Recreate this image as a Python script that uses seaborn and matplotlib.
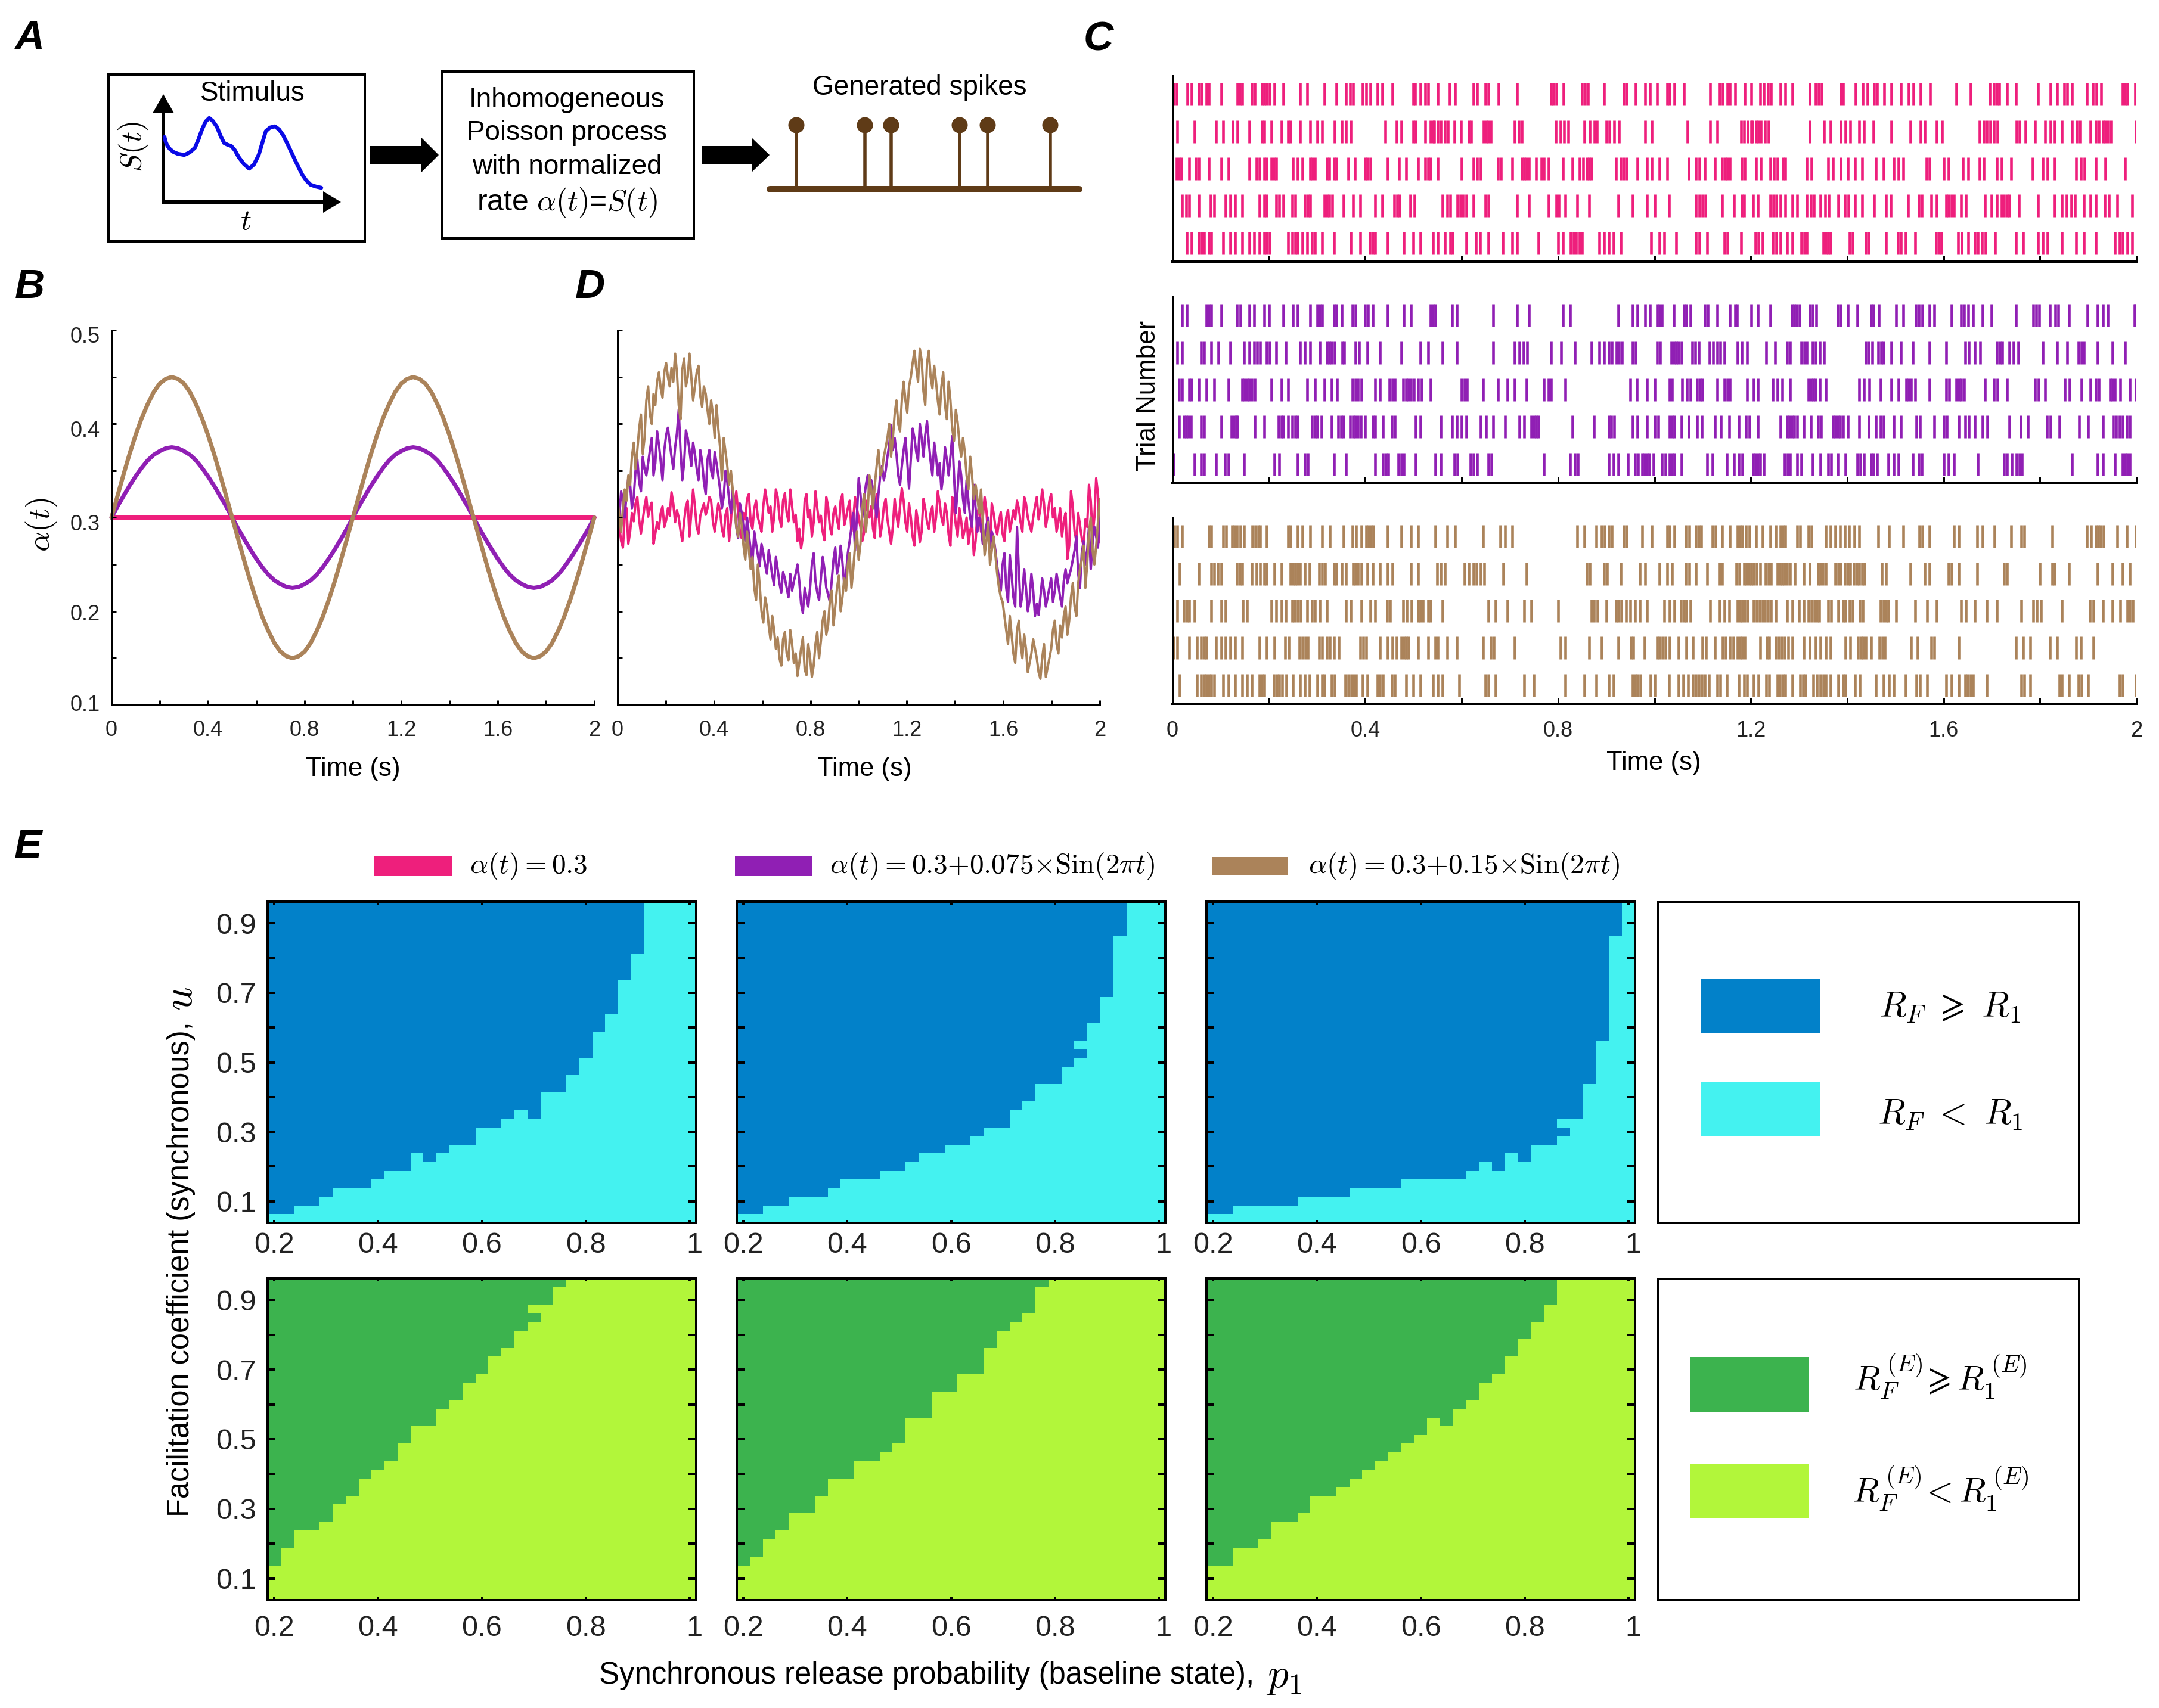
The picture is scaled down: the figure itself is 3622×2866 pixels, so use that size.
import numpy as np
import pandas as pd
import matplotlib
matplotlib.use("Agg")
import matplotlib.pyplot as plt
from matplotlib.colors import ListedColormap
from matplotlib.patches import Rectangle, Polygon, Circle
from matplotlib.transforms import ScaledTranslation
import seaborn as sns

W, H = 3622, 2866

PINK = "#EE1F7C"
PURPLE = "#901FB4"
BROWN = "#AB835A"
DARK_BLUE = "#0281C9"
CYAN = "#44F2F0"
GREEN = "#3CB34E"
LIME = "#B2F63A"
STEM = "#5F3B17"

# ------------------------------------------------------------
# DATA - panel A
# ------------------------------------------------------------
stimulus_x = [276, 278, 281, 285, 291, 298, 309, 318, 327, 333, 339, 345, 351, 357, 364, 370, 376, 382, 388, 394, 400,
              409, 418, 426, 434, 440, 446, 453, 461, 468, 475, 483, 491, 499, 507, 514, 521, 530, 539]
stimulus_y = [230, 238, 245, 250, 255, 258, 260, 256, 248, 234, 217, 204, 198, 203, 213, 228, 240, 243, 245, 252, 263,
              275, 283, 276, 260, 240, 220, 214, 212, 217, 227, 243, 260, 277, 293, 303, 310, 313, 315]
generated_spikes = [1336, 1451, 1495, 1610, 1657, 1762]

# ------------------------------------------------------------
# DATA - panel B, values read every 0.025 s
# ------------------------------------------------------------
clean_time = np.arange(81) * 0.025
clean_pink = [0.30] * 81
clean_purple = [.300, .312, .323, .334, .344, .353, .361, .367, .371, .374, .375, .374, .371, .367, .361, .353, .344, .334, .323, .312,
                .300, .288, .277, .266, .256, .247, .239, .233, .229, .226, .225, .226, .229, .233, .239, .247, .256, .266, .277, .288,
                .300, .312, .323, .334, .344, .353, .361, .367, .371, .374, .375, .374, .371, .367, .361, .353, .344, .334, .323, .312,
                .300, .288, .277, .266, .256, .247, .239, .233, .229, .226, .225, .226, .229, .233, .239, .247, .256, .266, .277, .288, .300]
clean_brown = [.300, .323, .346, .368, .388, .406, .421, .434, .443, .448, .450, .448, .443, .434, .421, .406, .388, .368, .346, .323,
               .300, .277, .254, .232, .212, .194, .179, .166, .157, .152, .150, .152, .157, .166, .179, .194, .212, .232, .254, .277,
               .300, .323, .346, .368, .388, .406, .421, .434, .443, .448, .450, .448, .443, .434, .421, .406, .388, .368, .346, .323,
               .300, .277, .254, .232, .212, .194, .179, .166, .157, .152, .150, .152, .157, .166, .179, .194, .212, .232, .254, .277, .300]

# ------------------------------------------------------------
# DATA - panel D, noisy rates
# (coarse samples plus the readings that fall between them)
# ------------------------------------------------------------
noisy_pink = [.317, .275, .300, .272, .305, .315, .298, .297, .322, .310,
              .272, .295, .305, .290, .310, .327, .295, .300, .275, .312,
              .280, .330, .290, .302, .315, .310, .318, .285, .315, .288,
              .303, .275, .325, .328, .285, .305, .320, .295, .310, .300,
              .285, .330, .305, .285, .330, .300, .318, .305, .330, .295,
              .275, .267, .318, .300, .280, .328, .295, .285, .322, .290,
              .305, .298, .318, .292, .310, .285, .322, .300, .275, .318,
              .300, .288, .325, .280, .312, .298, .272, .320, .290, .331,
              .295, .315, .280, .308, .274, .320, .295, .305, .285, .328,
              .300, .315, .282, .322, .292, .310, .278, .300, .286, .260,
              .305, .285, .322, .278, .315, .290, .296, .283, .300, .285,
              .308, .318, .295, .322, .300, .285, .312, .298, .330, .290,
              .318, .300, .285, .310, .296, .256, .328, .285, .305, .278,
              .298, .335, .280, .342, .274]
between_pink = [.290, .268, .310, .285, .296, .322, .283, .312, .301, .316,
                .283, .288, .312, .297, .302, .315, .308, .286, .296, .318,
                .305, .312, .283, .309, .303, .322, .296, .300, .307, .280,
                .310, .296, .315, .306, .278, .298, .325, .288, .318, .293,
                .312, .318, .312, .300, .322, .290, .326, .296, .312, .303,
                .288, .280, .325, .308, .295, .310, .302, .276, .312, .282,
                .312, .288, .325, .300, .318, .298, .310, .290, .284, .308,
                .312, .278, .308, .292, .320, .285, .290, .303, .312, .318,
                .285, .300, .270, .295, .285, .310, .288, .312, .300, .316,
                .292, .305, .270, .310, .280, .296, .288, .272, .295, .275,
                .312, .300, .308, .268, .305, .282, .306, .275, .308, .295,
                .298, .310, .285, .315, .292, .300, .322, .310, .315, .302,
                .325, .310, .295, .280, .305, .270, .312, .275, .292, .270,
                .290, .318, .300, .325]
noisy_purple = [.317, .328, .300, .342, .310, .350, .338, .365, .345, .372,
                .345, .392, .360, .372, .396, .365, .375, .415, .340, .393,
                .372, .380, .352, .372, .338, .362, .350, .370, .345, .310,
                .350, .320, .330, .290, .315, .290, .300, .265, .285, .260,
                .272, .250, .265, .238, .258, .230, .242, .225, .240, .232,
                .250, .208, .225, .205, .250, .232, .212, .258, .225, .210,
                .255, .240, .270, .228, .262, .290, .265, .342, .300, .335,
                .325, .330, .300, .345, .340, .365, .399, .385, .345, .355,
                .385, .331, .395, .370, .400, .365, .403, .360, .380, .345,
                .330, .375, .345, .387, .305, .360, .320, .340, .300, .335,
                .285, .290, .280, .300, .285, .265, .235, .250, .225, .260,
                .215, .290, .205, .245, .200, .240, .195, .196, .235, .205,
                .225, .210, .240, .215, .232, .230, .245, .265, .240, .262,
                .250, .290, .272, .280, .303]
between_purple = [.302, .318, .325, .335, .322, .362, .328, .352, .358, .385,
                  .358, .378, .340, .388, .380, .352, .390, .372, .358, .385,
                  .355, .368, .340, .360, .325, .372, .342, .358, .330, .322,
                  .338, .305, .312, .278, .305, .275, .282, .252, .272, .248,
                  .262, .240, .252, .228, .245, .220, .235, .215, .222, .240,
                  .232, .198, .215, .225, .262, .220, .235, .245, .218, .232,
                  .268, .250, .252, .240, .275, .305, .300, .325, .318, .345,
                  .340, .318, .325, .355, .350, .378, .372, .368, .335, .372,
                  .360, .362, .385, .360, .385, .388, .380, .345, .365, .358,
                  .345, .362, .365, .345, .330, .345, .305, .318, .290, .310,
                  .300, .272, .292, .268, .278, .248, .222, .262, .210, .238,
                  .205, .245, .218, .225, .212, .222, .208, .215, .222, .215,
                  .235, .222, .228, .205, .245, .238, .255, .280, .225, .275,
                  .265, .245, .290, .268]
noisy_brown = [.320, .285, .330, .345, .365, .352, .395, .368, .425, .410,
               .432, .445, .438, .455, .450, .460, .475, .420, .458, .440,
               .475, .425, .455, .430, .440, .415, .425, .385, .395, .340,
               .370, .335, .330, .290, .305, .270, .285, .245, .225, .250,
               .200, .215, .185, .195, .160, .150, .170, .155, .180, .145,
               .131, .160, .138, .165, .130, .165, .150, .190, .175, .210,
               .185, .225, .200, .235, .250, .225, .270, .255, .310, .285,
               .345, .310, .355, .345, .365, .385, .365, .410, .400, .425,
               .425, .440, .465, .460, .480, .435, .465, .450, .462, .425,
               .440, .420, .445, .395, .415, .380, .385, .345, .365, .320,
               .320, .330, .260, .295, .265, .260, .225, .210, .180, .195,
               .155, .180, .165, .175, .135, .155, .160, .135, .150, .130,
               .150, .180, .165, .185, .195, .175, .215, .205, .230, .255,
               .225, .285, .265, .270, .320]
between_brown = [.300, .310, .318, .335, .380, .372, .410, .385, .440, .400,
                 .420, .455, .428, .465, .440, .445, .455, .405, .470, .450,
                 .450, .440, .462, .418, .432, .400, .410, .420, .375, .385,
                 .355, .350, .310, .280, .292, .255, .265, .258, .212, .228,
                 .188, .205, .170, .180, .172, .142, .178, .148, .165, .155,
                 .145, .172, .132, .150, .142, .178, .168, .200, .185, .222,
                 .205, .238, .215, .222, .262, .245, .285, .272, .325, .305,
                 .330, .335, .372, .350, .375, .400, .385, .425, .392, .445,
                 .412, .450, .478, .445, .468, .420, .478, .438, .445, .410,
                 .455, .405, .425, .382, .402, .365, .370, .330, .345, .335,
                 .305, .295, .275, .250, .280, .240, .215, .195, .165, .175,
                 .145, .190, .150, .160, .145, .170, .150, .128, .165, .140,
                 .160, .190, .155, .172, .205, .190, .230, .195, .245, .270,
                 .250, .300, .250, .295]

# ------------------------------------------------------------
# DATA - panel C, spike times in ms, top trial first
# ------------------------------------------------------------
pink_spikes = [
    [2, 9, 31, 40, 55, 60, 70, 75, 101, 135, 140, 145, 165, 171, 186, 191, 196, 201, 211, 230, 265, 280, 316, 340, 360,
     369, 375, 395, 402, 411, 426, 435, 456, 500, 504, 515, 524, 531, 551, 575, 586, 625, 632, 649, 656, 676, 715, 785,
     790, 796, 811, 850, 856, 862, 895, 936, 942, 961, 981, 991, 1006, 1026, 1032, 1042, 1061, 1116, 1136, 1142, 1151,
     1157, 1167, 1187, 1201, 1220, 1227, 1236, 1242, 1262, 1272, 1286, 1322, 1335, 1341, 1347, 1386, 1392, 1417, 1432,
     1442, 1456, 1462, 1477, 1492, 1512, 1527, 1537, 1552, 1572, 1626, 1656, 1696, 1705, 1711, 1716, 1732, 1750, 1796,
     1822, 1836, 1850, 1857, 1867, 1897, 1910, 1917, 1927, 1971, 1976, 1982, 1997],
    [10, 46, 90, 105, 125, 135, 160, 186, 191, 205, 226, 240, 245, 265, 286, 300, 310, 336, 351, 360, 370, 441, 465, 475,
     500, 505, 525, 535, 540, 543, 550, 557, 565, 572, 585, 599, 615, 620, 646, 651, 656, 661, 710, 719, 725, 795, 805,
     812, 821, 855, 866, 876, 881, 900, 907, 916, 926, 981, 994, 1069, 1116, 1131, 1180, 1186, 1193, 1201, 1204, 1211,
     1216, 1221, 1229, 1237, 1322, 1352, 1366, 1386, 1396, 1406, 1425, 1435, 1455, 1492, 1531, 1552, 1561, 1586, 1597,
     1675, 1683, 1690, 1697, 1705, 1712, 1751, 1758, 1770, 1790, 1811, 1822, 1831, 1845, 1867, 1876, 1882, 1905, 1916,
     1922, 1931, 1936, 1941, 1947, 1999],
    [9, 14, 19, 35, 48, 54, 75, 101, 116, 160, 175, 181, 190, 196, 205, 210, 215, 250, 260, 270, 286, 291, 296, 320, 325,
     335, 340, 365, 379, 399, 405, 411, 446, 470, 485, 510, 524, 530, 536, 550, 600, 625, 632, 640, 675, 682, 705, 725,
     730, 735, 740, 755, 765, 771, 780, 810, 830, 845, 852, 860, 864, 870, 920, 930, 936, 942, 965, 985, 995, 1011, 1026,
     1071, 1086, 1093, 1105, 1125, 1141, 1146, 1151, 1156, 1181, 1187, 1211, 1221, 1241, 1248, 1255, 1266, 1272, 1316,
     1326, 1361, 1371, 1386, 1401, 1416, 1431, 1460, 1476, 1496, 1506, 1516, 1565, 1571, 1600, 1611, 1640, 1651, 1675,
     1683, 1710, 1720, 1740, 1785, 1806, 1816, 1831, 1875, 1885, 1892, 1916, 1936, 1976],
    [20, 29, 35, 55, 79, 86, 110, 120, 130, 145, 180, 190, 196, 215, 222, 230, 249, 255, 274, 281, 286, 315, 320, 325, 331,
     355, 375, 390, 420, 435, 460, 466, 471, 494, 502, 560, 570, 576, 591, 597, 602, 610, 625, 649, 656, 715, 740, 780,
     796, 801, 815, 840, 865, 925, 955, 985, 1001, 1030, 1086, 1093, 1100, 1106, 1141, 1165, 1181, 1186, 1205, 1215, 1241,
     1247, 1253, 1262, 1272, 1286, 1296, 1316, 1325, 1331, 1345, 1354, 1362, 1381, 1395, 1402, 1416, 1431, 1456, 1481,
     1491, 1526, 1549, 1555, 1575, 1586, 1605, 1610, 1616, 1622, 1636, 1646, 1686, 1700, 1710, 1721, 1726, 1731, 1736,
     1756, 1796, 1831, 1845, 1855, 1865, 1873, 1891, 1905, 1916, 1935, 1943, 1961, 1991],
    [30, 40, 55, 60, 66, 75, 81, 105, 120, 130, 145, 160, 170, 180, 190, 195, 201, 240, 249, 255, 260, 270, 280, 289, 296,
     310, 335, 370, 390, 410, 416, 421, 446, 480, 500, 515, 540, 550, 565, 576, 581, 610, 630, 638, 656, 685, 705, 715,
     760, 800, 810, 826, 832, 837, 845, 850, 885, 895, 905, 915, 930, 993, 1011, 1021, 1045, 1086, 1093, 1110, 1145, 1152,
     1180, 1210, 1216, 1225, 1246, 1253, 1262, 1275, 1286, 1305, 1311, 1316, 1351, 1356, 1361, 1366, 1405, 1411, 1439,
     1445, 1481, 1505, 1512, 1521, 1541, 1585, 1591, 1596, 1630, 1637, 1651, 1665, 1671, 1680, 1687, 1707, 1750, 1765,
     1796, 1806, 1816, 1846, 1875, 1891, 1916, 1956, 1965, 1971, 1981, 1991],
]
purple_spikes = [
    [20, 30, 70, 75, 81, 101, 134, 141, 160, 170, 190, 200, 230, 250, 260, 286, 300, 306, 311, 335, 340, 351, 374, 380, 400,
     406, 415, 446, 480, 495, 535, 541, 546, 580, 590, 666, 715, 740, 810, 825, 925, 955, 965, 981, 991, 1005, 1011, 1016,
     1040, 1061, 1066, 1075, 1104, 1111, 1131, 1157, 1167, 1171, 1201, 1215, 1241, 1285, 1290, 1295, 1301, 1322, 1329, 1336,
     1380, 1387, 1401, 1421, 1449, 1455, 1466, 1502, 1516, 1542, 1548, 1556, 1571, 1581, 1616, 1636, 1642, 1651, 1661, 1681,
     1700, 1750, 1786, 1792, 1799, 1821, 1832, 1838, 1860, 1899, 1920, 1931, 1941, 1996, 1998],
    [10, 20, 59, 66, 80, 95, 120, 149, 160, 170, 176, 182, 195, 201, 215, 235, 265, 275, 286, 305, 320, 325, 330, 336, 353,
     356, 380, 387, 405, 430, 475, 515, 530, 560, 590, 666, 710, 720, 729, 736, 785, 806, 835, 870, 885, 895, 905, 911, 921,
     927, 932, 955, 961, 1005, 1012, 1035, 1040, 1045, 1050, 1056, 1079, 1085, 1092, 1115, 1122, 1130, 1137, 1145, 1172,
     1181, 1192, 1232, 1251, 1275, 1281, 1305, 1311, 1316, 1329, 1335, 1343, 1352, 1439, 1445, 1452, 1465, 1471, 1476, 1492,
     1512, 1536, 1571, 1605, 1645, 1652, 1665, 1676, 1711, 1717, 1722, 1736, 1745, 1755, 1806, 1836, 1857, 1880, 1886, 1891,
     1920, 1951, 1976],
    [14, 20, 35, 40, 55, 70, 87, 116, 145, 150, 155, 160, 165, 171, 205, 226, 240, 280, 295, 316, 330, 341, 374, 380, 385,
     392, 421, 431, 450, 456, 461, 479, 485, 490, 495, 501, 510, 517, 535, 600, 606, 611, 645, 675, 695, 710, 735, 770, 781,
     786, 815, 950, 963, 985, 1001, 1031, 1036, 1058, 1068, 1075, 1089, 1095, 1100, 1131, 1145, 1151, 1156, 1192, 1206, 1215,
     1245, 1255, 1265, 1281, 1320, 1325, 1330, 1335, 1343, 1356, 1425, 1435, 1446, 1470, 1492, 1506, 1522, 1527, 1532, 1541,
     1571, 1606, 1612, 1626, 1631, 1636, 1642, 1686, 1705, 1712, 1732, 1790, 1797, 1811, 1851, 1862, 1886, 1905, 1916, 1922,
     1945, 1951, 1956, 1966, 1986, 1999],
    [14, 23, 28, 33, 38, 59, 66, 101, 122, 127, 132, 135, 171, 190, 220, 226, 230, 240, 249, 255, 260, 289, 295, 301, 309, 330,
     344, 350, 355, 369, 375, 380, 385, 391, 400, 415, 421, 436, 455, 461, 505, 515, 556, 580, 590, 600, 610, 640, 650, 666,
     690, 720, 730, 744, 750, 755, 760, 830, 875, 905, 910, 916, 955, 965, 985, 1001, 1008, 1031, 1037, 1042, 1056, 1071,
     1089, 1098, 1125, 1138, 1155, 1175, 1190, 1197, 1215, 1262, 1275, 1280, 1285, 1290, 1296, 1310, 1325, 1339, 1346, 1370,
     1375, 1380, 1385, 1392, 1401, 1425, 1445, 1460, 1470, 1476, 1496, 1512, 1544, 1551, 1581, 1600, 1607, 1631, 1645, 1652,
     1665, 1681, 1691, 1736, 1760, 1775, 1815, 1822, 1841, 1881, 1900, 1931, 1952, 1958, 1965, 1971, 1980, 1986],
    [3, 46, 59, 66, 90, 109, 116, 149, 211, 221, 260, 274, 281, 335, 360, 421, 437, 443, 448, 469, 475, 480, 505, 545, 556,
     585, 591, 619, 625, 632, 656, 662, 770, 825, 835, 841, 905, 915, 925, 945, 960, 966, 975, 980, 985, 990, 998, 1016,
     1023, 1031, 1037, 1042, 1056, 1110, 1120, 1150, 1165, 1175, 1182, 1205, 1210, 1215, 1220, 1227, 1270, 1276, 1281, 1296,
     1305, 1329, 1345, 1361, 1367, 1380, 1396, 1421, 1427, 1435, 1449, 1455, 1462, 1486, 1496, 1506, 1536, 1549, 1555, 1600,
     1611, 1621, 1671, 1726, 1732, 1741, 1751, 1757, 1762, 1866, 1920, 1931, 1956, 1971, 1976, 1981, 1986],
]
brown_spikes = [
    [4, 10, 20, 75, 81, 105, 111, 124, 129, 134, 141, 149, 166, 172, 178, 182, 195, 240, 245, 260, 270, 286, 310, 326, 355,
     374, 381, 392, 402, 407, 412, 417, 446, 475, 495, 510, 546, 570, 586, 645, 680, 690, 705, 840, 855, 880, 891, 897, 905,
     911, 936, 942, 975, 995, 1026, 1032, 1042, 1065, 1072, 1086, 1092, 1097, 1121, 1127, 1141, 1157, 1172, 1178, 1183, 1190,
     1197, 1211, 1225, 1241, 1252, 1261, 1267, 1272, 1296, 1302, 1320, 1326, 1355, 1365, 1375, 1385, 1395, 1404, 1415, 1425,
     1465, 1487, 1516, 1550, 1556, 1571, 1621, 1631, 1670, 1681, 1706, 1740, 1761, 1767, 1826, 1897, 1906, 1916, 1921, 1926,
     1932, 1961, 1980, 1999],
    [15, 55, 80, 86, 94, 101, 134, 140, 145, 165, 175, 182, 190, 196, 211, 226, 245, 250, 255, 260, 265, 275, 284, 304, 310,
     317, 335, 340, 351, 360, 375, 380, 385, 392, 405, 415, 430, 446, 456, 495, 510, 549, 556, 565, 606, 615, 624, 631, 640,
     647, 687, 735, 859, 866, 895, 902, 930, 970, 981, 1011, 1026, 1036, 1065, 1072, 1086, 1110, 1135, 1141, 1170, 1176, 1186,
     1191, 1196, 1201, 1206, 1212, 1220, 1231, 1237, 1242, 1255, 1260, 1265, 1270, 1275, 1281, 1291, 1310, 1322, 1339, 1345,
     1350, 1356, 1376, 1382, 1387, 1395, 1401, 1406, 1414, 1420, 1425, 1431, 1436, 1472, 1481, 1531, 1561, 1571, 1611, 1617,
     1631, 1670, 1725, 1732, 1800, 1825, 1831, 1860, 1920, 1951, 1971, 1986],
    [10, 24, 30, 35, 46, 80, 101, 110, 146, 155, 205, 215, 226, 235, 249, 254, 260, 266, 280, 289, 296, 305, 320, 360, 370, 392,
     411, 421, 445, 451, 479, 486, 496, 509, 515, 520, 530, 536, 560, 655, 670, 695, 730, 745, 800, 869, 875, 882, 900, 920, 925,
     931, 941, 950, 960, 970, 985, 1021, 1031, 1042, 1055, 1061, 1066, 1075, 1116, 1136, 1145, 1155, 1172, 1178, 1183, 1188,
     1193, 1206, 1212, 1218, 1224, 1230, 1236, 1242, 1252, 1275, 1286, 1300, 1310, 1320, 1326, 1332, 1337, 1342, 1361, 1367,
     1381, 1391, 1397, 1405, 1411, 1426, 1432, 1470, 1475, 1480, 1486, 1502, 1541, 1566, 1586, 1636, 1646, 1665, 1690, 1710,
     1761, 1786, 1793, 1802, 1845, 1904, 1911, 1931, 1951, 1966, 1981, 1987, 1992],
    [3, 10, 35, 51, 59, 65, 71, 90, 101, 110, 120, 130, 145, 181, 195, 211, 234, 241, 264, 270, 276, 281, 304, 311, 320, 326,
     335, 345, 390, 396, 402, 430, 446, 456, 465, 475, 480, 485, 490, 510, 530, 546, 551, 570, 590, 645, 660, 667, 710, 805,
     815, 865, 890, 925, 951, 956, 980, 1005, 1011, 1017, 1023, 1031, 1050, 1066, 1080, 1100, 1107, 1125, 1142, 1148, 1157,
     1164, 1172, 1178, 1183, 1188, 1220, 1233, 1238, 1252, 1258, 1264, 1270, 1278, 1286, 1310, 1322, 1335, 1345, 1355, 1365,
     1396, 1406, 1422, 1428, 1434, 1438, 1450, 1467, 1473, 1478, 1532, 1546, 1574, 1581, 1631, 1750, 1765, 1780, 1821, 1835,
     1875, 1885, 1911],
    [15, 51, 59, 66, 70, 75, 80, 86, 105, 116, 130, 145, 155, 165, 180, 186, 191, 210, 216, 222, 228, 236, 250, 265, 275, 284,
     300, 311, 316, 330, 336, 359, 365, 371, 376, 381, 395, 405, 425, 431, 436, 455, 461, 485, 500, 515, 540, 550, 560, 595,
     649, 656, 670, 730, 750, 815, 855, 880, 905, 915, 955, 960, 965, 971, 992, 1001, 1030, 1050, 1060, 1070, 1080, 1086, 1092,
     1098, 1104, 1113, 1130, 1137, 1150, 1175, 1186, 1192, 1206, 1216, 1232, 1238, 1255, 1260, 1266, 1272, 1286, 1302, 1308,
     1313, 1330, 1337, 1345, 1351, 1356, 1365, 1381, 1391, 1397, 1416, 1426, 1460, 1476, 1487, 1496, 1521, 1544, 1551, 1566,
     1606, 1616, 1631, 1645, 1650, 1656, 1661, 1690, 1761, 1767, 1780, 1840, 1846, 1860, 1880, 1886, 1900, 1965, 1971, 1999],
]

# ------------------------------------------------------------
# DATA - panel E, number of cells below the boundary in each p1 column
# ------------------------------------------------------------
p1_values = np.arange(33) * 0.025 + 0.2
u_values = np.arange(37) * 0.025 + 0.05

top_below_1 = [1, 1, 2, 2, 3, 4, 4, 4, 5, 6, 6, 8, 7, 8, 9, 9, 11, 11, 12, 13, 12, 15, 15, 17, 19, 22, 24, 28, 31, 37, 37, 37, 37]
top_below_2 = [1, 1, 2, 2, 3, 3, 3, 4, 5, 5, 5, 6, 6, 7, 8, 8, 9, 9, 10, 11, 11, 13, 14, 16, 16, 18, 19, 23, 26, 33, 37, 37, 37]
top_below_3 = [1, 1, 2, 2, 2, 2, 2, 3, 3, 3, 3, 4, 4, 4, 4, 5, 5, 5, 5, 5, 6, 7, 6, 8, 7, 9, 9, 10, 12, 16, 21, 33, 37]
bottom_below_1 = [4, 6, 8, 8, 9, 11, 12, 14, 15, 16, 18, 20, 20, 22, 23, 25, 26, 28, 29, 31, 32, 34, 36, 37, 37, 37, 37, 37, 37, 37, 37, 37, 37]
bottom_below_2 = [4, 5, 7, 8, 10, 10, 12, 14, 14, 16, 16, 17, 18, 21, 21, 24, 24, 26, 26, 29, 31, 32, 33, 36, 37, 37, 37, 37, 37, 37, 37, 37, 37]
bottom_below_3 = [4, 4, 6, 6, 7, 9, 9, 10, 12, 12, 13, 14, 15, 16, 17, 18, 19, 21, 20, 22, 23, 25, 26, 28, 30, 32, 34, 37, 37, 37, 37, 37, 37]
# isolated light cells above the boundary: (row, column)
top_pockets_2 = [(20, 26)]
top_pockets_3 = [(11, 27)]
bottom_pockets_1 = [(33, 20)]

time_ticks = [0, 0.2, 0.4, 0.6, 0.8, 1.0, 1.2, 1.4, 1.6, 1.8, 2.0]
time_labels = ["0", "", "0.4", "", "0.8", "", "1.2", "", "1.6", "", "2"]
rate_ticks = [0.1, 0.15, 0.2, 0.25, 0.3, 0.35, 0.4, 0.45, 0.5]
rate_labels = ["0.1", "", "0.2", "", "0.3", "", "0.4", "", "0.5"]
p_ticks = [0.2, 0.4, 0.6, 0.8, 1.0]
p_labels = ["0.2", "0.4", "0.6", "0.8", "1"]
u_ticks = [0.1, 0.2, 0.3, 0.4, 0.5, 0.6, 0.7, 0.8, 0.9]
u_labels = ["0.1", "", "0.3", "", "0.5", "", "0.7", "", "0.9"]

sns.set_theme(style="white")
plt.rcParams["font.family"] = ["Liberation Sans", "DejaVu Sans"]
plt.rcParams["mathtext.fontset"] = "cm"
plt.rcParams["text.color"] = "black"
plt.rcParams["axes.unicode_minus"] = False

PX = 72 / 200  # points per pixel
fig = plt.figure(figsize=(W / 200, H / 200), dpi=200, facecolor="white")


def add_ax(left, top, right, bottom):
    return fig.add_axes([left / W, 1 - bottom / H, (right - left) / W, (bottom - top) / H])


def interleave(coarse, between):
    merged = np.zeros(len(coarse) + len(between))
    merged[::2] = coarse
    merged[1::2] = between
    return merged


# ------------------------------------------------------------
# PANELS B AND D
# ------------------------------------------------------------
def rate_axes(ax, show_y):
    ax.set_xlim(0, 2)
    ax.set_ylim(0.1, 0.5)
    ax.set_xticks(time_ticks)
    ax.set_xticklabels(time_labels, fontsize=13, color="#222222")
    ax.set_yticks(rate_ticks)
    ax.set_yticklabels(rate_labels if show_y else [], fontsize=13, color="#222222")
    ax.tick_params(axis="both", direction="in", length=8 * PX, width=3 * PX, colors="black", pad=9, left=True, bottom=True)
    ax.tick_params(axis="x", labelcolor="#222222")
    ax.tick_params(axis="y", labelcolor="#222222", pad=7)
    ax.set_axisbelow(False)
    for side in ["top", "right"]:
        ax.spines[side].set_visible(False)
    for side in ["left", "bottom"]:
        ax.spines[side].set_linewidth(3 * PX)
        ax.spines[side].set_color("black")
    ax.set_xlabel("")
    ax.set_ylabel("")
    if show_y:
        # the labels do not sit exactly on their ticks in the figure
        offsets = {"0.5": -8, "0.4": -8, "0.3": -8, "0.2": -2, "0.1": 3}
        for label in ax.get_yticklabels():
            if label.get_text() in offsets:
                shift = ScaledTranslation(0, offsets[label.get_text()] / 200, fig.dpi_scale_trans)
                label.set_transform(label.get_transform() + shift)


ax_b = add_ax(187, 554, 997, 1183)
for values, color in [(clean_pink, PINK), (clean_purple, PURPLE), (clean_brown, BROWN)]:
    sns.lineplot(x=clean_time, y=values, color=color, linewidth=7 * PX, errorbar=None, ax=ax_b, clip_on=False)
rate_axes(ax_b, True)

ax_d = add_ax(1036, 554, 1845, 1183)
noisy_series = [(noisy_pink, between_pink, PINK), (noisy_purple, between_purple, PURPLE), (noisy_brown, between_brown, BROWN)]
for coarse, between, color in noisy_series:
    values = interleave(coarse, between)
    noisy_time = np.arange(len(values)) * 2 / (len(values) - 1)
    sns.lineplot(x=noisy_time, y=values, color=color, linewidth=4 * PX, errorbar=None, ax=ax_d)
rate_axes(ax_d, False)

# ------------------------------------------------------------
# PANEL C
# ------------------------------------------------------------
raster_spans = [(127, 439), (498, 810), (869, 1181)]
raster_sets = [(pink_spikes, PINK), (purple_spikes, PURPLE), (brown_spikes, BROWN)]
for i, ((top, bottom), (trials, color)) in enumerate(zip(raster_spans, raster_sets)):
    ax = add_ax(1967, top, 3584, bottom)
    ax.eventplot([np.array(t) / 1000 for t in trials], lineoffsets=[5, 4, 3, 2, 1], linelengths=0.61,
                 linewidths=4.6 * PX, colors=color)
    ax.set_xlim(0, 2)
    ax.set_ylim(0.5, 5.5)
    ax.set_yticks([])
    ax.set_xticks(time_ticks)
    ax.set_xticklabels(time_labels if i == 2 else [], fontsize=13, color="#222222")
    ax.tick_params(axis="x", direction="in", length=10 * PX, width=3 * PX, colors="black", pad=10, bottom=True)
    ax.tick_params(axis="x", labelcolor="#222222")
    ax.set_axisbelow(False)
    ax.spines["top"].set_visible(False)
    ax.spines["right"].set_visible(False)
    ax.spines["left"].set_linewidth(3 * PX)
    ax.spines["left"].set_color("black")
    ax.spines["bottom"].set_linewidth(4 * PX)
    ax.spines["bottom"].set_color("black")


# ------------------------------------------------------------
# PANEL E
# ------------------------------------------------------------
def region_table(below, pockets=()):
    grid = np.zeros((len(u_values), len(p1_values)))
    for col, n in enumerate(below):
        grid[n:, col] = 1
    for row, col in pockets:
        grid[row, col] = 0
    return pd.DataFrame(grid, index=np.round(u_values, 3), columns=np.round(p1_values, 3))


def region_axes(ax, table, light, dark, show_y, x_pad):
    sns.heatmap(table, cmap=ListedColormap([light, dark]), vmin=0, vmax=1, cbar=False,
                xticklabels=False, yticklabels=False, ax=ax)
    ax.invert_yaxis()
    ax.set_xlabel("")
    ax.set_ylabel("")
    ax.set_xticks([(p - 0.2) / 0.025 + 0.5 for p in p_ticks])
    ax.set_xticklabels(p_labels, fontsize=17.5, color="#222222")
    ax.set_yticks([(u - 0.05) / 0.025 + 0.5 for u in u_ticks])
    ax.set_yticklabels(u_labels if show_y else [], fontsize=17.5, color="#222222", rotation=0)
    ax.set_axisbelow(False)
    ax.tick_params(axis="x", direction="in", length=5 * PX, width=4 * PX, top=True, bottom=True, pad=x_pad,
                   color="black", labelcolor="#222222")
    ax.tick_params(axis="y", direction="in", length=13 * PX, width=4 * PX, left=True, right=True, pad=7,
                   color="black", labelcolor="#222222")
    for spine in ax.spines.values():
        spine.set_visible(True)
        spine.set_linewidth(4 * PX)
        spine.set_color("black")
    # the "1" sits a little right of its tick
    shift = ScaledTranslation(8 / 200, 0, fig.dpi_scale_trans)
    last = ax.get_xticklabels()[-1]
    last.set_transform(last.get_transform() + shift)


columns_px = [(449, 1168), (1236, 1955), (2024, 2743)]
top_rows = [(top_below_1, ()), (top_below_2, top_pockets_2), (top_below_3, top_pockets_3)]
bottom_rows = [(bottom_below_1, bottom_pockets_1), (bottom_below_2, ()), (bottom_below_3, ())]
for i, (left, right) in enumerate(columns_px):
    below, pockets = top_rows[i]
    region_axes(add_ax(left, 1513, right, 2052), region_table(below, pockets), CYAN, DARK_BLUE, i == 0, 5.5)
    below, pockets = bottom_rows[i]
    region_axes(add_ax(left, 2145, right, 2685), region_table(below, pockets), LIME, GREEN, i == 0, 9)

# ------------------------------------------------------------
# OVERLAY: PANEL A, LETTERS, LEGENDS, LABELS (in image pixels)
# ------------------------------------------------------------
ov = fig.add_axes([0, 0, 1, 1], zorder=10)
ov.set_xlim(0, W)
ov.set_ylim(H, 0)
ov.axis("off")
ov.patch.set_alpha(0)


def put(x, y, text, size=16, ha="center", va="center", **kw):
    ov.text(x, y, text, fontsize=size, ha=ha, va=va, color=kw.pop("color", "black"), **kw)


def box(left, top, right, bottom, lw=4):
    ov.add_patch(Rectangle((left, top), right - left, bottom - top, fill=False, ec="black", lw=lw * PX))


def swatch(left, top, right, bottom, color):
    ov.add_patch(Rectangle((left, top), right - left, bottom - top, fc=color, ec="none"))


def block_arrow(x0, tip, base, y):
    ov.add_patch(Polygon([(x0, y - 15), (base, y - 15), (base, y - 29), (tip, y), (base, y + 29), (base, y + 15), (x0, y + 15)],
                         fc="black", ec="none"))


for letter, x, y in [("A", 24, 83), ("C", 1818, 84), ("B", 25, 500), ("D", 965, 500), ("E", 24, 1440)]:
    put(x, y, letter, size=25, ha="left", va="baseline", fontweight="bold", fontstyle="italic")

box(182, 125, 612, 405)
box(742, 120, 1164, 400)
put(424, 157, "Stimulus", 16.5)
for y, line, size in zip([168, 223, 280, 340],
                         ["Inhomogeneous", "Poisson process", "with normalized", r"rate $\alpha(t)$=$S(t)$"],
                         [16.5, 16.5, 16.5, 18]):
    put(951, y, line, size)
put(1543, 147, "Generated spikes", 16.5)
block_arrow(620, 736, 707, 260)
block_arrow(1177, 1291, 1261, 260)

# small S(t) axes
ov.plot([274, 274], [342, 185], color="black", lw=6 * PX, solid_capstyle="butt")
ov.plot([271, 545], [339, 339], color="black", lw=6 * PX, solid_capstyle="butt")
ov.add_patch(Polygon([(274, 158), (256, 190), (292, 190)], fc="black", ec="none"))
ov.add_patch(Polygon([(572, 339), (542, 321), (542, 357)], fc="black", ec="none"))
ov.plot(stimulus_x, stimulus_y, color="#0A0AE6", lw=6.5 * PX, solid_joinstyle="round")
put(224, 247, r"$S(t)$", 18, rotation=90)
put(412, 372, r"$t$", 18)

# generated spikes
ov.plot([1291, 1810], [317, 317], color=STEM, lw=11 * PX, solid_capstyle="round")
for x in generated_spikes:
    ov.plot([x, x], [315, 215], color=STEM, lw=5.5 * PX, solid_capstyle="butt")
    ov.add_patch(Circle((x, 210), 13.5, fc=STEM, ec="none"))

# axis labels
put(70, 881, r"$\alpha(t)$", 19, rotation=90)
put(592, 1290, "Time (s)", 15.7)
put(1450, 1290, "Time (s)", 15.7)
put(2774, 1280, "Time (s)", 15.7)
put(1927, 664, "Trial Number", 15.8, rotation=90)
put(304, 2130, "Facilitation coefficient (synchronous),", 18.2, rotation=90)
put(304, 1676, r"$u$", 25, rotation=90)
put(1555, 2811, "Synchronous release probability (baseline state),", 18.3)
put(2124, 2815, r"$p_1$", 25, ha="left")

# legend row
swatch(628, 1436, 758, 1470, PINK)
put(788, 1453, r"$\alpha(t){=}0.3$", 17, ha="left")
swatch(1233, 1436, 1363, 1470, PURPLE)
put(1392, 1453, r"$\alpha(t){=}0.3{+}0.075{\times}\mathrm{Sin}(2\pi t)$", 17, ha="left")
swatch(2033, 1438, 2160, 1468, BROWN)
put(2195, 1453, r"$\alpha(t){=}0.3{+}0.15{\times}\mathrm{Sin}(2\pi t)$", 17, ha="left")

# region keys
box(2782, 1514, 3488, 2052)
box(2782, 2146, 3488, 2685)
swatch(2854, 1642, 3053, 1733, DARK_BLUE)
swatch(2854, 1816, 3053, 1907, CYAN)
swatch(2836, 2277, 3035, 2369, GREEN)
swatch(2836, 2456, 3035, 2547, LIME)
put(3271, 1691, r"$R_F\ \geqslant\ R_1$", 21.5)
put(3272, 1871, r"$R_F\ <\ R_1$", 21.5)
put(3255, 2309, r"$R_F^{\,(E)}\!\geqslant R_1^{\,(E)}$", 21)
put(3255, 2497, r"$R_F^{\,(E)}\!< R_1^{\,(E)}$", 21)

fig.savefig("out.png", dpi=200, facecolor="white")
